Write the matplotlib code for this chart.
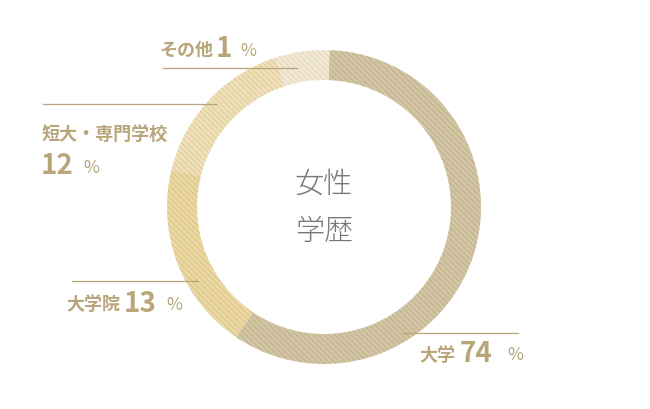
import matplotlib.pyplot as plt

plt.rcParams['font.family'] = ['Noto Sans CJK JP', 'DejaVu Sans']
plt.rcParams['hatch.linewidth'] = 0.6

# data
categories = ["大学", "大学院", "短大・専門学校", "その他"]
percent = [74, 13, 12, 1]
# ring shares as drawn in the picture (not to scale with the labels)
ring_share = [58.9, 19.4, 16.1, 5.6]
fills = ["#d2c5a3", "#ebd7a0", "#efe0b8", "#f2e9d5"]
stripes = ["#bfae8a", "#d8c18b", "#dcca9c", "#e2d6bb"]

gold = "#b8a57a"
H = 410


def y(px):
    return H - px


fig = plt.figure(figsize=(6.5, 4.1), dpi=100)
ax = fig.add_axes([0, 0, 1, 1])

wedges, _ = ax.pie(ring_share, colors=fills, startangle=88, counterclock=False,
                   center=(324, y(208)), radius=157,
                   wedgeprops=dict(width=30, linewidth=0), frame=True)
for w, sc in zip(wedges, stripes):
    w.set_hatch("\\\\\\\\\\\\")
    w.set_edgecolor(sc)
    w.set_linewidth(0)
ax.set_xlim(0, 650)
ax.set_ylim(0, H)
ax.set_aspect("equal")
ax.axis("off")

# centre title
ax.text(324, y(184), "女性", ha="center", va="center", fontsize=21,
        color="#777777", fontweight="light")
ax.text(324, y(232), "学歴", ha="center", va="center", fontsize=21,
        color="#777777", fontweight="light")

lab = dict(color=gold, fontweight="bold", va="baseline", ha="left")
num = dict(color=gold, fontweight="bold", va="baseline", ha="left")
pct = dict(color=gold, fontweight="normal", va="baseline", ha="left")

# その他
ax.plot([163, 297], [y(69), y(69)], color=gold, lw=0.9)
ax.text(159, y(56), categories[3], fontsize=13, **lab)
ax.text(216, y(57), str(percent[3]), fontsize=20, **num)
ax.text(240, y(56), "%", fontsize=12.5, **pct)

# 短大・専門学校
ax.plot([43, 217], [y(105), y(105)], color=gold, lw=0.9)
ax.text(42, y(140), categories[2], fontsize=13, **lab)
ax.text(41, y(174), str(percent[2]), fontsize=20, **num)
ax.text(83, y(173), "%", fontsize=12.5, **pct)

# 大学院
ax.plot([72, 198], [y(282), y(282)], color=gold, lw=0.9)
ax.text(66, y(310), categories[1], fontsize=13, **lab)
ax.text(124, y(312), str(percent[1]), fontsize=20, **num)
ax.text(166, y(310), "%", fontsize=12.5, **pct)

# 大学
ax.plot([403, 518], [y(334), y(334)], color=gold, lw=0.9)
ax.text(419, y(361), categories[0], fontsize=13, **lab)
ax.text(460, y(362), str(percent[0]), fontsize=20, **num)
ax.text(507, y(360), "%", fontsize=12.5, **pct)

fig.savefig("out.png", dpi=100, facecolor="white")
